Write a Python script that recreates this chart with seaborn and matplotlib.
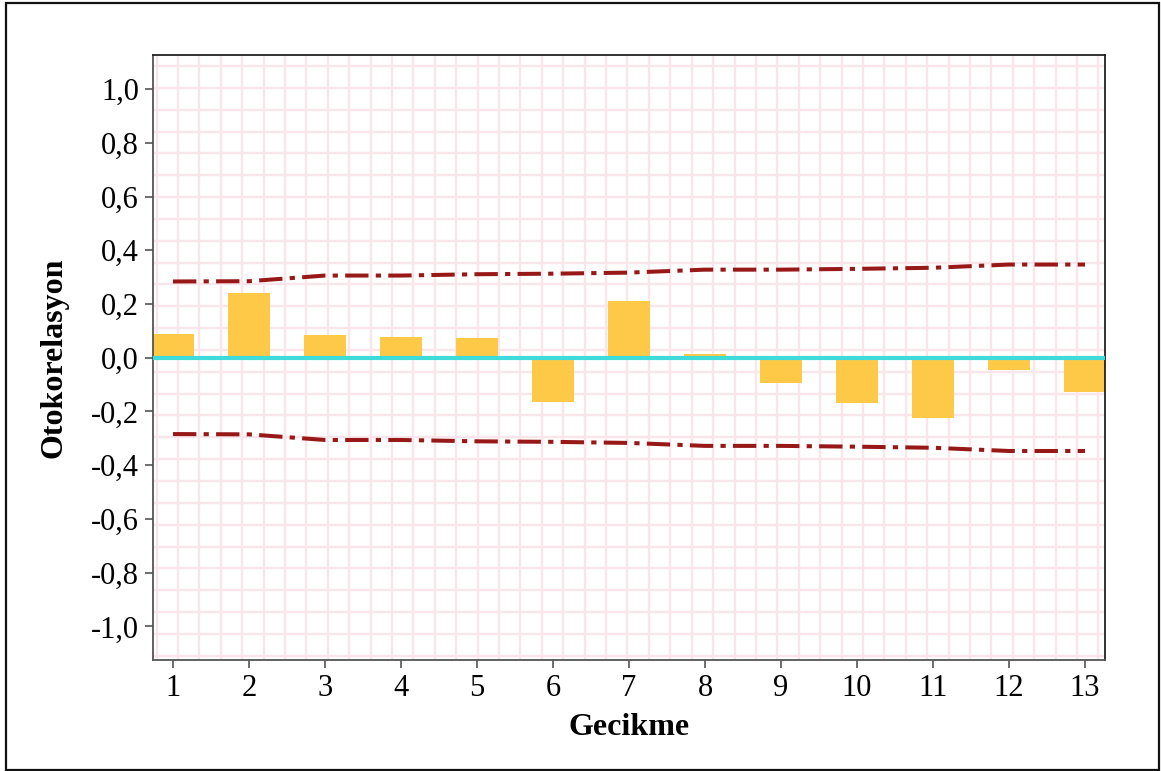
import numpy as np
import pandas as pd
import matplotlib
matplotlib.use("Agg")
import matplotlib.pyplot as plt
from matplotlib.patches import Rectangle
from matplotlib.ticker import FixedLocator
import seaborn as sns

# ---- data ----
lags = [1, 2, 3, 4, 5, 6, 7, 8, 9, 10, 11, 12, 13]
acf = [0.088, 0.242, 0.084, 0.077, 0.075, -0.164, 0.213, 0.015, -0.094, -0.170, -0.223, -0.044, -0.127]
upper = [0.284, 0.285, 0.306, 0.306, 0.311, 0.313, 0.317, 0.328, 0.328, 0.331, 0.335, 0.347, 0.347]
lower = [-v for v in upper]
yticks = [1.0, 0.8, 0.6, 0.4, 0.2, 0.0, -0.2, -0.4, -0.6, -0.8, -1.0]
ytick_labels = ["1,0", "0,8", "0,6", "0,4", "0,2", "0,0", "-0,2", "-0,4", "-0,6", "-0,8", "-1,0"]

df = pd.DataFrame({"Gecikme": lags, "ACF": acf})
lim = pd.DataFrame({"Gecikme": lags * 2, "limit": upper + lower,
                    "side": ["up"] * len(lags) + ["low"] * len(lags)})

sns.set_theme(style="white")
plt.rcParams["font.family"] = ["Liberation Serif", "DejaVu Serif"]

fig = plt.figure(figsize=(11.61, 7.71), dpi=100)
ax = fig.add_axes([153 / 1161, 1 - 660 / 771, (1105 - 153) / 1161, (660 - 55) / 771])

# background grid (style)
grid_col = "#F9E6EA"
ax.xaxis.set_minor_locator(FixedLocator(np.arange(0.785, 13.3, 0.2816)))
ax.yaxis.set_minor_locator(FixedLocator(np.arange(1.086, -1.13, -0.0813)))
ax.grid(which="minor", color=grid_col, linewidth=1.7)
ax.grid(which="major", visible=False)
ax.set_axisbelow(True)

sns.barplot(data=df, x="Gecikme", y="ACF", native_scale=True, width=0.54,
            color="#FDC946", saturation=1, edgecolor="none", ax=ax, zorder=2)

sns.lineplot(data=lim, x="Gecikme", y="limit", units="side", estimator=None,
             color="#981818", linewidth=2.9, ax=ax, zorder=3)
for ln in ax.lines:
    ln.set_linestyle((0, (5.8, 1.8, 1.3, 1.8)))
    ln.set_dash_capstyle("butt")

ax.axhline(0, color="#3FDADA", linewidth=3.0, zorder=4)

ax.set_xlim(0.737, 13.263)
ax.set_ylim(-1.125, 1.127)
ax.set_xticks(lags)
ax.set_xticklabels([str(l) for l in lags])
ax.set_yticks(yticks)
ax.set_yticklabels(ytick_labels)
ax.tick_params(axis="both", which="major", length=6, width=1.2, color="#555555",
               labelsize=22, labelcolor="black", direction="out", pad=4,
               bottom=True, left=True)
ax.tick_params(which="minor", length=0)

for s in ax.spines.values():
    s.set_visible(True)
    s.set_color("#222222")
    s.set_linewidth(1.3)
ax.spines["left"].set_color("#555555")
ax.spines["bottom"].set_color("#555555")

ax.set_xlabel("Gecikme", fontsize=23, fontweight="bold", color="black", labelpad=7)
ax.set_ylabel("Otokorelasyon", fontsize=23, fontweight="bold", color="black", labelpad=16)

# outer frame
fig.patches.append(Rectangle((6 / 1161, 1 / 771), 1153 / 1161, 767 / 771,
                             transform=fig.transFigure, fill=False,
                             edgecolor="#111111", linewidth=1.6))

fig.savefig("out.png", dpi=100, facecolor="white")
